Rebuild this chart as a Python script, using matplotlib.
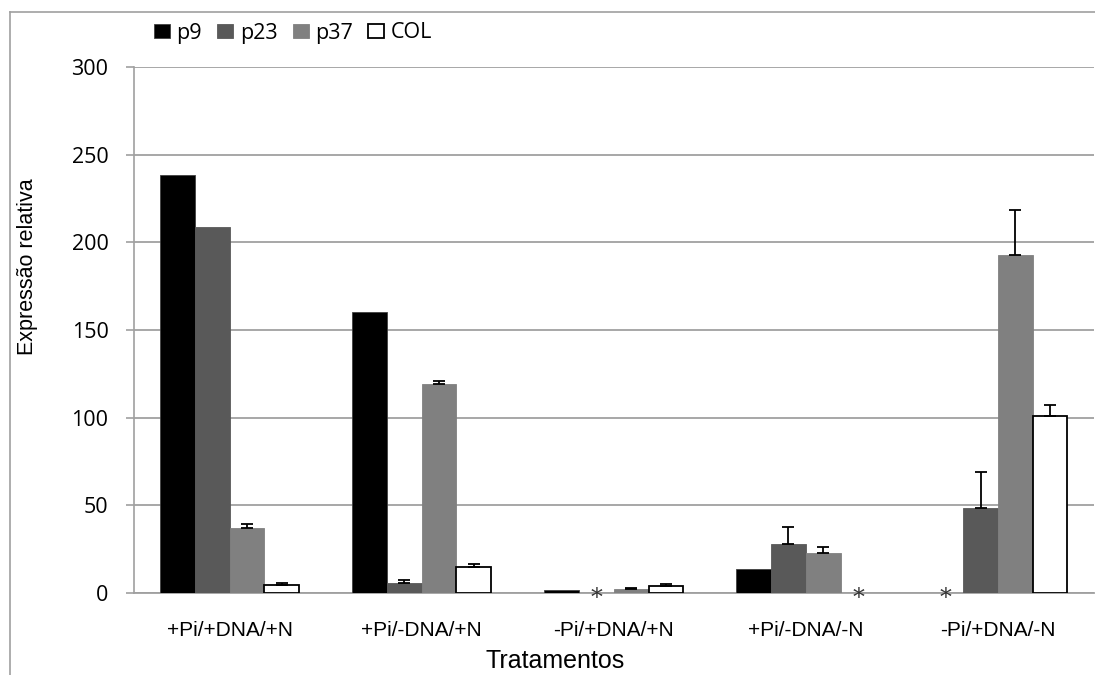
# Expressao relativa por tratamento (p9, p23, p37, COL)
import numpy as np
import matplotlib
matplotlib.use('Agg')
import matplotlib.pyplot as plt
from matplotlib.lines import Line2D

tratamentos = ['+Pi/+DNA/+N', '+Pi/-DNA/+N', '-Pi/+DNA/+N', '+Pi/-DNA/-N', '-Pi/+DNA/-N']
series = ['p9', 'p23', 'p37', 'COL']

p9 = [238.4, 160.1, 1.5, 13.7, 0]
p23 = [208.6, 5.7, 0, 27.8, 48.7]
p37 = [36.9, 119.2, 2.1, 22.8, 192.8]
col = [4.7, 15.0, 4.0, 0, 100.8]

p9_err = [0, 0, 0, 0, 0]
p23_err = [0, 1.5, 0, 10.0, 20.2]
p37_err = [2.3, 1.9, 0.6, 3.6, 25.7]
col_err = [0.8, 1.5, 1.3, 0, 6.6]

yticks = [0, 50, 100, 150, 200, 250, 300]

values = [p9, p23, p37, col]
errors = [p9_err, p23_err, p37_err, col_err]
fills = ['#000000', '#595959', '#808080', '#ffffff']
edges = ['#404040', '#595959', '#808080', '#000000']

fig = plt.figure(figsize=(10.95, 6.75), dpi=100)
ax = fig.add_axes([133.5/1095, 1-593/675, (1094-133.5)/1095, 526/675])

# outer frame (top and left edges only visible)
fig.add_artist(Line2D([10/1095, 1], [1-12/675, 1-12/675], color='#a0a0a0', lw=1.2,
                      transform=fig.transFigure))
fig.add_artist(Line2D([10/1095, 10/1095], [0, 1-12/675], color='#a0a0a0', lw=1.2,
                      transform=fig.transFigure))

x = np.arange(len(tratamentos))
w = 0.181
bars = []
for j in range(4):
    pos = x + (j - 1.5) * w
    v = np.array(values[j])
    b = ax.bar(pos, v, w, color=fills[j], edgecolor=edges[j],
               linewidth=1.3 if j == 3 else 0.6, zorder=3, label=series[j])
    bars.append(b)
    err = np.array(errors[j])
    has = err > 0
    ax.errorbar(pos[has], v[has], yerr=[np.zeros(has.sum()), err[has]],
                fmt='none', ecolor='black', elinewidth=1.3, capsize=4.5, capthick=1.3, zorder=4)
    for k in range(len(x)):
        if v[k] == 0:
            b.patches[k].set_visible(False)
            ax.annotate('*', (pos[k], 0), xytext=(0, -4), textcoords='offset points',
                        ha='center', va='center', fontsize=17, family='DejaVu Serif',
                        color='#333333', zorder=5, annotation_clip=False)

ax.set_xlim(-0.5, 4.5)
ax.set_ylim(0, 300)
ax.set_yticks(yticks)
ax.set_xticks(x)
ax.set_xticklabels(tratamentos, fontsize=15, family='Liberation Sans')
ax.tick_params(axis='x', length=0, pad=20)
ax.tick_params(axis='y', length=6, width=1.2, color='#a0a0a0', pad=12, labelsize=15.5)
for lab in ax.get_yticklabels():
    lab.set_family('Open Sans')

ax.grid(axis='y', color='#a0a0a0', lw=1.3, zorder=0)
ax.set_axisbelow(True)
for s in ['top', 'right']:
    ax.spines[s].set_visible(False)
ax.spines['left'].set_color('#a0a0a0')
ax.spines['left'].set_linewidth(1.2)
ax.spines['bottom'].set_color('#a0a0a0')
ax.spines['bottom'].set_linewidth(1.3)

fig.text(28/1095, 1-267/675, 'Expressão relativa', rotation=90, ha='center', va='center',
         fontsize=15.5, family='Liberation Sans')
fig.text(555/1095, 1-661/675, 'Tratamentos', ha='center', va='center',
         fontsize=18, family='Liberation Sans')

leg = fig.legend(handles=bars, labels=series, loc='center left',
                 bbox_to_anchor=(154/1095, 1-33/675), ncol=4, frameon=False,
                 prop={'family': 'Open Sans', 'size': 15.5}, handlelength=0.75,
                 handleheight=0.65, handletextpad=0.3, columnspacing=0.7,
                 borderaxespad=0, borderpad=0)

fig.savefig('out.png', dpi=100)
